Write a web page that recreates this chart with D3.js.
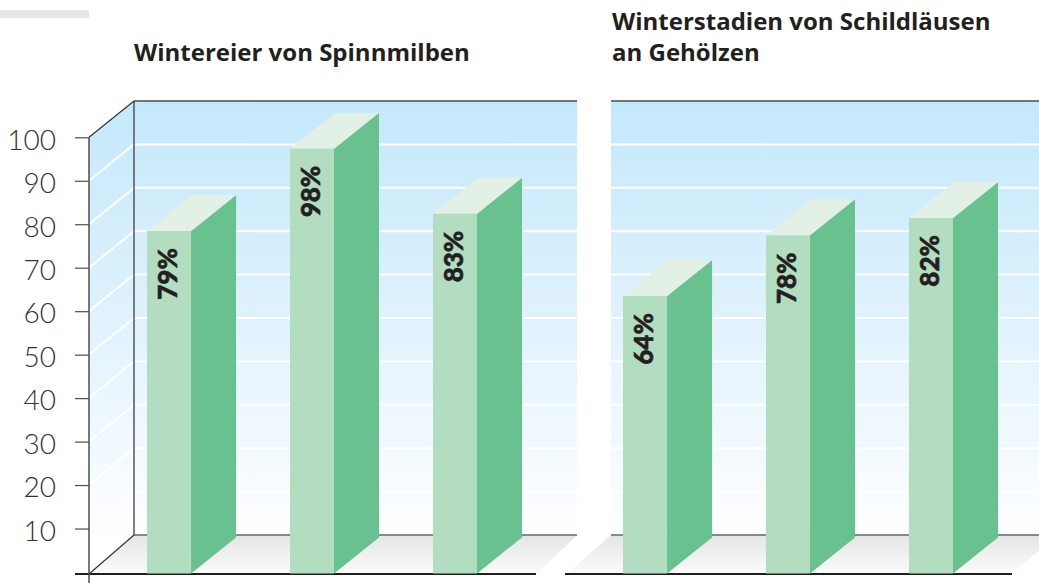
<!DOCTYPE html>
<html>
<head>
<meta charset="utf-8">
<script src="https://cdn.jsdelivr.net/npm/d3@7"></script>
<style>
html,body{margin:0;padding:0;background:#fff;overflow:hidden}
text{font-family:Lato,"Open Sans",sans-serif}
</style>
</head>
<body>
<div id="chart"></div>
<script>
var spinnmilben = [79, 98, 83];
var schildlaeuse = [64, 78, 82];
var slots = [0, 1, 2];
var tickValues = [10, 20, 30, 40, 50, 60, 70, 80, 90, 100];
var titleLeft = ["Wintereier von Spinnmilben"];
var titleRight = ["Winterstadien von Schildläusen", "an Gehölzen"];

var w = 1039;
var h = 583;
var depthX = 45;
var depthY = 36;

var svg = d3.select("#chart").append("svg")
    .attr("width", w)
    .attr("height", h)
    .style("display", "block");

var defs = svg.append("defs");

var sky = defs.append("linearGradient").attr("id", "sky")
    .attr("gradientUnits", "userSpaceOnUse")
    .attr("x1", 0).attr("x2", 0).attr("y1", 101).attr("y2", 540);
sky.append("stop").attr("offset", "0%").attr("stop-color", "#c4e8fb");
sky.append("stop").attr("offset", "50%").attr("stop-color", "#e0f2fd");
sky.append("stop").attr("offset", "100%").attr("stop-color", "#ffffff");

var floorFill = defs.append("linearGradient").attr("id", "floor")
    .attr("gradientUnits", "userSpaceOnUse")
    .attr("x1", 0).attr("x2", 0).attr("y1", 535).attr("y2", 574);
floorFill.append("stop").attr("offset", "0%").attr("stop-color", "#e4e5e6");
floorFill.append("stop").attr("offset", "100%").attr("stop-color", "#fbfbfb");

// tick scale on the front edge, the bars sit a little lower on it
var yFront = d3.scaleLinear().domain([0, 100]).range([572, 137.3]);
var yBars = d3.scaleLinear().domain([0, 100]).range([573.5, 140]);
var yBack = d3.scaleLinear().domain([0, 100]).range([535, 101]);

function pts(a) {
    return a.map(d => d.join(",")).join(" ");
}

function panel(g, cfg) {
    // floor
    g.append("polygon")
        .attr("points", pts([[cfg.wallX, 535]].concat(cfg.floorEdge, [[cfg.floorStart, 573]])))
        .style("fill", "url(#floor)");

    // back wall
    g.append("rect")
        .attr("x", cfg.wallX)
        .attr("y", yBack(100))
        .attr("width", cfg.wallEnd - cfg.wallX)
        .attr("height", yBack(0) - yBack(100))
        .style("fill", "url(#sky)");

    g.selectAll(".grid")
        .data(tickValues.slice(0, 9))
        .enter()
        .append("line")
        .attr("x1", cfg.wallX)
        .attr("x2", cfg.wallEnd)
        .attr("y1", d => yBack(d))
        .attr("y2", d => yBack(d))
        .style("stroke", "#fff")
        .style("stroke-width", 2);

    g.append("line")
        .attr("x1", cfg.wallX).attr("x2", cfg.wallEnd)
        .attr("y1", yBack(100)).attr("y2", yBack(100))
        .style("stroke", "#4d4d4d").style("stroke-width", 1.5);

    g.append("line")
        .attr("x1", cfg.wallX).attr("x2", cfg.wallEnd)
        .attr("y1", yBack(0)).attr("y2", yBack(0))
        .style("stroke", "#666").style("stroke-width", 1.5);

    g.append("line")
        .attr("x1", cfg.baseStart).attr("x2", cfg.baseEnd)
        .attr("y1", 574).attr("y2", 574)
        .style("stroke", "#231f20").style("stroke-width", 2);

    var x = d3.scaleBand()
        .domain(slots)
        .range(cfg.barRange)
        .paddingInner(0.692);
    var bw = x.bandwidth();

    var bars = g.selectAll(".bar")
        .data(cfg.values)
        .enter()
        .append("g");

    bars.append("polygon")
        .attr("points", (d, i) => pts([[x(i) + bw, yBars(d)], [x(i) + bw + depthX, yBars(d) - depthY], [x(i) + bw + depthX, yBars(0) - depthY], [x(i) + bw, yBars(0)]]))
        .style("fill", "#69c18f");

    bars.append("polygon")
        .attr("points", (d, i) => pts([[x(i), yBars(d)], [x(i) + depthX, yBars(d) - depthY], [x(i) + bw + depthX, yBars(d) - depthY], [x(i) + bw, yBars(d)]]))
        .style("fill", "#e3f0e6");

    bars.append("rect")
        .attr("x", (d, i) => x(i))
        .attr("y", d => yBars(d))
        .attr("width", bw)
        .attr("height", d => yBars(0) - yBars(d))
        .style("fill", "#b2ddc0");

    bars.append("text")
        .attr("transform", (d, i) => "translate(" + (x(i) + bw / 2 + 8) + "," + (yBars(d) + 17) + ") rotate(-90)")
        .attr("text-anchor", "end")
        .style("font-size", "26px")
        .style("font-weight", 900)
        .style("fill", "#231f20")
        .style("stroke", "#231f20")
        .style("stroke-width", 0.6)
        .text(d => d + "%");
}

var left = svg.append("g");
var right = svg.append("g");

// left side wall goes under the bars
left.append("polygon")
    .attr("points", pts([[89, yFront(100)], [134, yBack(100)], [134, yBack(0)], [89, 574]]))
    .style("fill", "url(#sky)");

left.selectAll(".sidegrid")
    .data(tickValues.slice(0, 9))
    .enter()
    .append("line")
    .attr("x1", 89).attr("x2", 134)
    .attr("y1", d => yFront(d))
    .attr("y2", d => yBack(d))
    .style("stroke", "#fff")
    .style("stroke-width", 2);

panel(left, {
    values: spinnmilben,
    wallX: 134, wallEnd: 577,
    floorStart: 89, floorEdge: [[577, 535], [538, 573]],
    baseStart: 75, baseEnd: 536,
    barRange: [147, 477]
});

panel(right, {
    values: schildlaeuse,
    wallX: 611, wallEnd: 1039,
    floorStart: 568, floorEdge: [[1039, 535], [1039, 550], [1013, 573]],
    baseStart: 565, baseEnd: 1012,
    barRange: [623, 953]
});

// side wall edges + y axis
left.append("line")
    .attr("x1", 134).attr("x2", 134).attr("y1", yBack(100)).attr("y2", yBack(0))
    .style("stroke", "#555").style("stroke-width", 1.5);
left.append("line")
    .attr("x1", 89).attr("x2", 134).attr("y1", yFront(100)).attr("y2", yBack(100))
    .style("stroke", "#333").style("stroke-width", 1.2);
left.append("line")
    .attr("x1", 89).attr("x2", 134).attr("y1", 574).attr("y2", yBack(0))
    .style("stroke", "#333").style("stroke-width", 1.2);
left.append("line")
    .attr("x1", 89).attr("x2", 89).attr("y1", yFront(100)).attr("y2", h)
    .style("stroke", "#4d4d4d").style("stroke-width", 1.5);

var axis = d3.axisLeft(yFront)
    .tickValues(tickValues)
    .tickSize(14)
    .tickPadding(19)
    .tickFormat(d3.format("d"));

var axisG = svg.append("g")
    .attr("transform", "translate(89,0)")
    .call(axis);
axisG.select(".domain").remove();
axisG.selectAll(".tick line").style("stroke", "#4d4d4d").style("stroke-width", 1.2);
axisG.selectAll(".tick text")
    .attr("dy", "0.42em")
    .style("font-family", "Lato")
    .style("font-size", "28px")
    .style("font-weight", 300)
    .style("fill", "#333");

// grey strip top left
svg.append("rect")
    .attr("x", 0).attr("y", 10)
    .attr("width", 89).attr("height", 8)
    .style("fill", "#e6e7e8");

svg.selectAll(".title1")
    .data(titleLeft)
    .enter()
    .append("text")
    .attr("x", 134)
    .attr("y", 61)
    .style("font-family", "'Open Sans'")
    .style("font-size", "24px")
    .style("font-weight", 700)
    .style("fill", "#231f20")
    .text(d => d);

svg.selectAll(".title2")
    .data(titleRight)
    .enter()
    .append("text")
    .attr("x", 612)
    .attr("y", (d, i) => 30 + i * 31)
    .style("font-family", "'Open Sans'")
    .style("font-size", "24px")
    .style("font-weight", 700)
    .style("fill", "#231f20")
    .text(d => d);
</script>
</body>
</html>
